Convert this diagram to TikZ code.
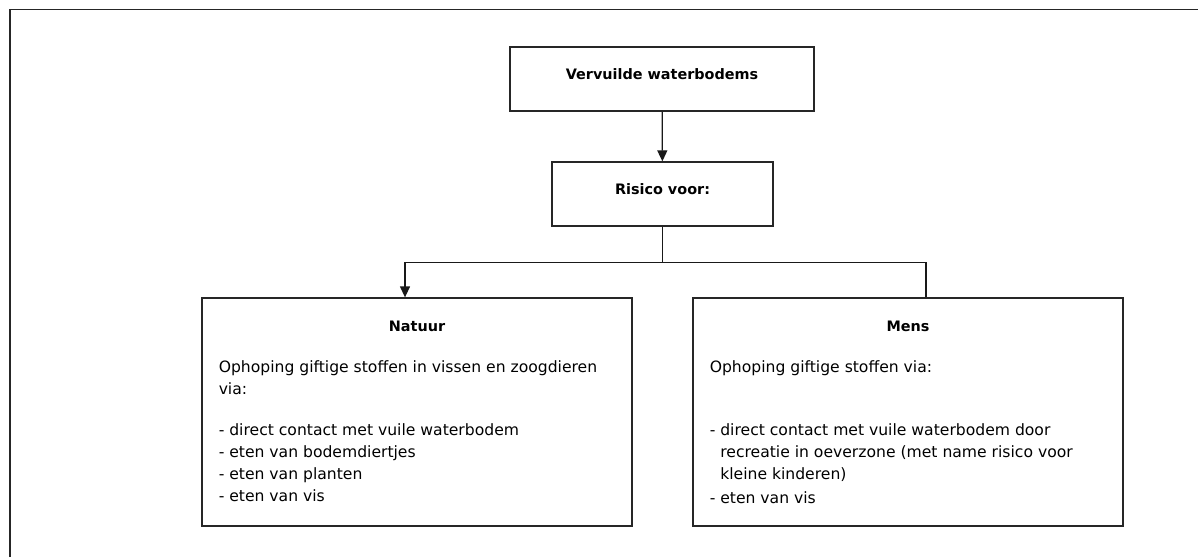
\documentclass[tikz,border=0pt]{standalone}
\usepackage{fontspec}
\setmainfont{DejaVu Sans}
\usetikzlibrary{arrows.meta}

\tikzset{
  kader/.style={draw=black!85, line width=0.65pt},
  blok/.style={kader, rectangle, inner sep=0pt, text height=16pt, text depth=16pt,
    font=\bfseries\fontsize{7.2}{9}\selectfont},
  vak/.style={kader, rectangle, inner sep=0pt, minimum width=215pt, minimum height=114pt},
  kop/.style={anchor=base, inner sep=0pt, font=\bfseries\fontsize{7.2}{9}\selectfont},
  tekst/.style={anchor=base west, inner sep=0pt, align=left, font=\fontsize{7.8}{11}\selectfont},
  lijn/.style={draw=black!90, line width=0.65pt},
  pijl/.style={lijn, -{Triangle[width=5pt,length=5.5pt]}},
}

\begin{document}
\begin{tikzpicture}[x=0.5pt,y=-0.5pt]
  \useasboundingbox (0,0) rectangle (1198,557);
  % rand
  \draw[line width=0.75pt, black!85] (10,557) -- (10,9.5) -- (1198,9.5);

  \node[blok, minimum width=152pt] (vervuild) at (662,79) {Vervuilde waterbodems};
  \node[blok, minimum width=110.5pt] (risico) at (662.5,194) {Risico voor:};

  \node[vak] (natuur) at (417,412) {};
  \node[vak] (mens) at (908,412) {};

  \node[kop] (natuur-kop) at ([yshift=-17pt]natuur.north) {Natuur};
  \node[kop] (mens-kop) at ([yshift=-17pt]mens.north) {Mens};

  % base = laatste regel
  \node[tekst] (natuur-tekst) at ([xshift=8.5pt,yshift=-102pt]natuur.north west)
    {Ophoping giftige stoffen in vissen en zoogdieren\\
     via:\\[9.5pt]
     - direct contact met vuile waterbodem\\
     - eten van bodemdiertjes\\
     - eten van planten\\
     - eten van vis};
  \node[tekst] (mens-tekst) at ([xshift=8.5pt,yshift=-103pt]mens.north west)
    {Ophoping giftige stoffen via:\\[20.5pt]
     - direct contact met vuile waterbodem door\\
     \hphantom{- }recreatie in oeverzone (met name risico voor\\
     \hphantom{- }kleine kinderen)\\[1pt]
     - eten van vis};

  % verbindingen
  \coordinate (splits) at ([yshift=-18pt]risico.south);
  \draw[pijl] (vervuild) -- (risico);
  \draw[lijn] (risico.south) -- (splits);
  \draw[pijl] (splits) -| ([xshift=-6pt]natuur.north);
  \draw[lijn] (splits) -| ([xshift=9pt]mens.north);
\end{tikzpicture}
\end{document}
